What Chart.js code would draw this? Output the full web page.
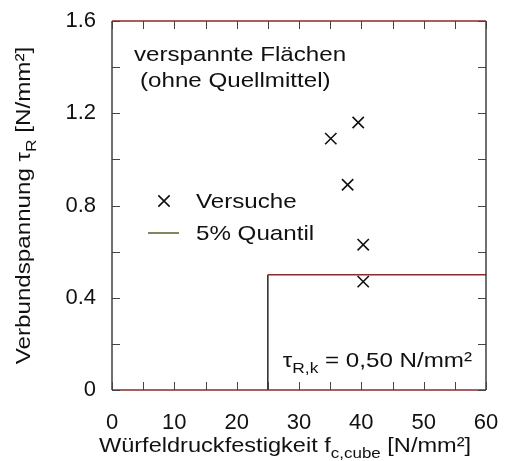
<!DOCTYPE html>
<html>
<head>
<meta charset="utf-8">
<script src="https://cdn.jsdelivr.net/npm/chart.js@4.4.0/dist/chart.umd.min.js"></script>
<style>
  html, body { margin: 0; padding: 0; background: #fff; }
  #wrap { width: 509px; height: 461px; }
</style>
</head>
<body>
<div id="wrap"><canvas id="chart"></canvas></div>
<script>
// Versuche: Würfeldruckfestigkeit [N/mm²] und Verbundspannung [N/mm²]
const fcCube = [35.1, 39.5, 37.8, 40.3, 40.3];
const tauR = [1.09, 1.16, 0.89, 0.63, 0.47];

// 5% Quantil, gilt ab fc,cube = 25
const quantilX = [25, 25, 60];
const quantilY = [0, 0.50, 0.50];

// beschriftete Achsenwerte
const xTickLabels = [0, 10, 20, 30, 40, 50, 60];
const yTickLabels = [0, 0.4, 0.8, 1.2, 1.6];

const FONT = "'Liberation Sans', Arial, sans-serif";
const STRETCH = 1.15;

const tauK = quantilY[1].toFixed(2).replace('.', ',');

// Text mit Tief-/Hochstellung zeichnen
function drawRich(ctx, parts, x, y, size, align) {
  ctx.save();
  ctx.translate(x, y);
  ctx.scale(STRETCH, 1);
  ctx.textAlign = 'left';
  ctx.textBaseline = 'alphabetic';
  ctx.fillStyle = '#111';
  let total = 0;
  const items = parts.map(([t, k]) => {
    const s = k ? size * 0.72 : size;
    ctx.font = s + 'px ' + FONT;
    const w = ctx.measureText(t).width;
    total += w;
    return { t, k, s, w };
  });
  let cx = align === 'center' ? -total / 2 : (align === 'right' ? -total : 0);
  items.forEach(it => {
    ctx.font = it.s + 'px ' + FONT;
    const dy = it.k === 'sub' ? size * 0.3 : (it.k === 'sup' ? -size * 0.4 : 0);
    ctx.fillText(it.t, cx, dy);
    cx += it.w;
  });
  ctx.restore();
}

const frame = {
  id: 'frame',
  afterDatasetsDraw(chart) {
    const ctx = chart.ctx;
    const a = chart.chartArea;
    const xs = chart.scales.x, ys = chart.scales.y;
    const tl = 8;
    ctx.save();
    ctx.lineWidth = 1.4;
    // Rahmen
    ctx.strokeStyle = '#8a2a2a';
    ctx.beginPath();
    ctx.moveTo(a.left, a.top); ctx.lineTo(a.right, a.top);
    ctx.moveTo(a.left, a.bottom); ctx.lineTo(a.right, a.bottom);
    ctx.stroke();
    ctx.strokeStyle = '#333';
    ctx.beginPath();
    ctx.moveTo(a.left, a.top); ctx.lineTo(a.left, a.bottom);
    ctx.moveTo(a.right, a.top); ctx.lineTo(a.right, a.bottom);
    ctx.stroke();
    // Teilstriche nach innen
    ctx.strokeStyle = '#444';
    ctx.lineWidth = 1;
    ctx.beginPath();
    xs.ticks.forEach(t => {
      const px = Math.round(xs.getPixelForValue(t.value)) + 0.5;
      ctx.moveTo(px, a.bottom); ctx.lineTo(px, a.bottom - tl);
      ctx.moveTo(px, a.top); ctx.lineTo(px, a.top + tl);
    });
    ys.ticks.forEach(t => {
      const py = Math.round(ys.getPixelForValue(t.value)) + 0.5;
      ctx.moveTo(a.left, py); ctx.lineTo(a.left + tl, py);
      ctx.moveTo(a.right, py); ctx.lineTo(a.right - tl, py);
    });
    ctx.stroke();
    ctx.restore();
  },
  afterDraw(chart) {
    const ctx = chart.ctx;
    const a = chart.chartArea;
    // Beschriftung oben links
    drawRich(ctx, [['verspannte Flächen']], a.left + 22, a.top + 40, 21, 'left');
    drawRich(ctx, [['(ohne Quellmittel)']], a.left + 28, a.top + 66, 21, 'left');
    // Legende
    const lx = a.left + 52;
    const ly1 = a.top + 180, ly2 = a.top + 212;
    const ds0 = chart.data.datasets[0], ds1 = chart.data.datasets[1];
    ctx.save();
    ctx.strokeStyle = ds0.borderColor;
    ctx.lineWidth = ds0.borderWidth;
    Chart.helpers.drawPoint(ctx, { pointStyle: ds0.pointStyle, radius: ds0.pointRadius, borderWidth: ds0.borderWidth }, lx, ly1);
    ctx.strokeStyle = ds1.borderColor;
    ctx.lineWidth = ds1.borderWidth;
    ctx.beginPath();
    ctx.moveTo(lx - 16, ly2); ctx.lineTo(lx + 15, ly2);
    ctx.stroke();
    ctx.restore();
    drawRich(ctx, [[ds0.label]], lx + 32, ly1 + 7, 21, 'left');
    drawRich(ctx, [[ds1.label]], lx + 32, ly2 + 7, 21, 'left');
    // charakteristischer Wert
    drawRich(ctx, [['τ'], ['R,k', 'sub'], [' = ' + tauK + ' N/mm²']], a.right - 14, a.bottom - 23, 21, 'right');
    // Achsentitel
    drawRich(ctx, [['Würfeldruckfestigkeit f'], ['c,cube', 'sub'], [' [N/mm²]']], (a.left + a.right) / 2 - 14, 452, 20.5, 'center');
    ctx.save();
    ctx.translate(30, (a.top + a.bottom) / 2);
    ctx.rotate(-Math.PI / 2);
    drawRich(ctx, [['Verbundspannung τ'], ['R', 'sub'], [' [N/mm²]']], 0, 0, 21, 'center');
    ctx.restore();
  }
};

new Chart(document.getElementById('chart'), {
  type: 'scatter',
  data: {
    datasets: [
      {
        label: 'Versuche',
        data: fcCube.map((x, i) => ({ x, y: tauR[i] })),
        pointStyle: 'crossRot',
        pointRadius: 8,
        pointHoverRadius: 8,
        borderColor: '#111',
        backgroundColor: '#111',
        borderWidth: 1.6
      },
      {
        label: '5% Quantil',
        data: quantilX.map((x, i) => ({ x, y: quantilY[i] })),
        showLine: true,
        pointRadius: 0,
        borderColor: '#5a6b3a',
        borderWidth: 1.6,
        segment: {
          borderColor: c => c.p0.parsed.y === c.p1.parsed.y ? '#8a2a2a' : '#333'
        }
      }
    ]
  },
  options: {
    responsive: true,
    maintainAspectRatio: false,
    animation: false,
    events: [],
    layout: { padding: { top: 21, right: 23, left: 0, bottom: 0 } },
    plugins: { legend: { display: false }, tooltip: { enabled: false } },
    scales: {
      x: {
        type: 'linear',
        min: 0, max: 60,
        grid: { display: false, drawTicks: false },
        border: { display: false },
        afterFit: s => { s.height = 71; s.paddingLeft = 0; s.paddingRight = 0; },
        ticks: {
          stepSize: 5,
          maxRotation: 0,
          autoSkip: false,
          padding: 20,
          color: '#111',
          font: { family: FONT, size: 22 },
          callback: v => xTickLabels.includes(v) ? String(v) : ''
        }
      },
      y: {
        type: 'linear',
        min: 0, max: 1.6,
        grid: { display: false, drawTicks: false },
        border: { display: false },
        afterFit: s => { s.width = 112; s.paddingTop = 0; s.paddingBottom = 0; },
        ticks: {
          stepSize: 0.2,
          autoSkip: false,
          padding: 16,
          color: '#111',
          font: { family: FONT, size: 22 },
          callback: v => {
            const r = Math.round(v * 10) / 10;
            return yTickLabels.includes(r) ? String(r) : '';
          }
        }
      }
    }
  },
  plugins: [frame]
});
</script>
</body>
</html>
